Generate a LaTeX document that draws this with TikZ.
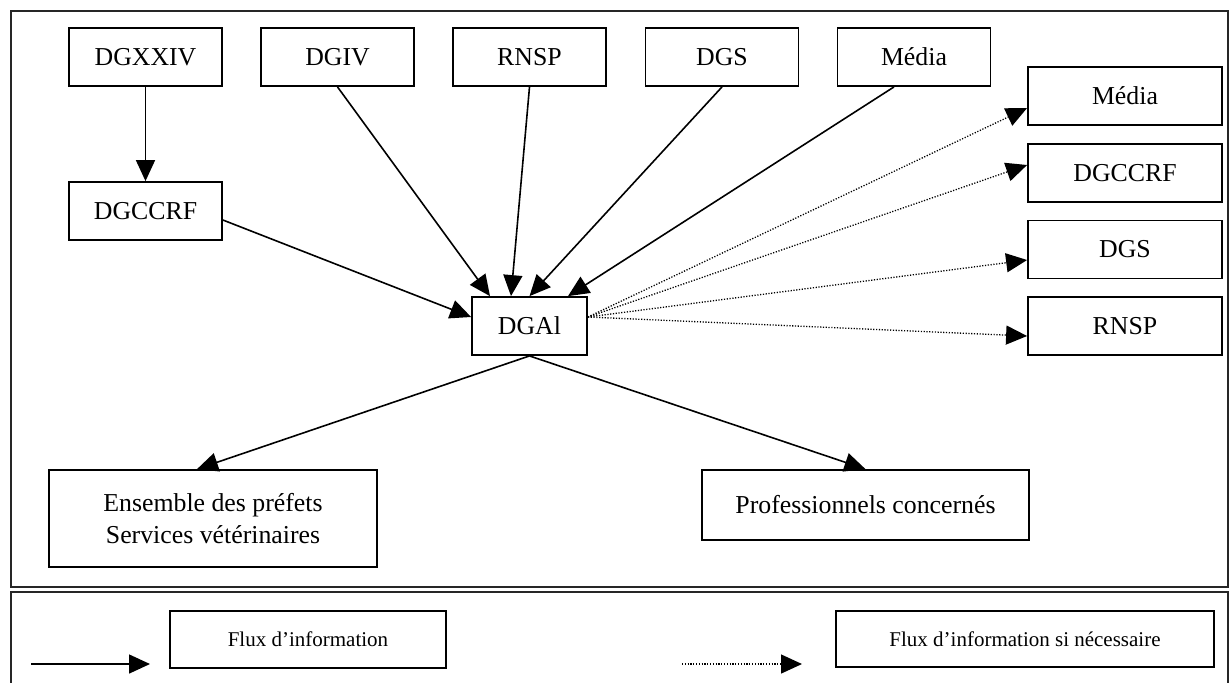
\documentclass[tikz,border=0pt]{standalone}
\usepackage{fontspec}
\setmainfont{Liberation Serif}
\usepackage{tikz}
\usetikzlibrary{arrows.meta,calc}
\definecolor{dgLine}{HTML}{000000}
\definecolor{dgFrame}{HTML}{262626}
\newcommand{\prefetsTxt}{Ensemble des préfets\\Services vétérinaires}
\newcommand{\prosTxt}{Professionnels concernés}
\newcommand{\legSolid}{Flux d’information}
\newcommand{\legDotted}{Flux d’information si nécessaire}
\newcommand{\bw}{76.5pt}
\newcommand{\bh}{29pt}

\begin{document}
\begin{tikzpicture}[
  x=0.5pt, y=-0.5pt,
  font=\fontsize{12.9}{15.8}\selectfont,
  org/.style={
    draw=dgLine, line width=0.9pt, inner sep=0pt,
    minimum width=\bw, minimum height=\bh, align=center
  },
  orgR/.style={org, minimum width=97pt},
  legbox/.style={org, font=\fontsize{10.5}{12}\selectfont},
  panel/.style={draw=dgFrame, line width=0.9pt},
  flow/.style={
    -{Triangle[length=10.5pt,width=9.5pt]},
    draw=dgLine, line width=0.8pt
  },
  flowopt/.style={flow, line width=0.65pt, dash pattern=on 0.6pt off 0.8pt}
]
\useasboundingbox (0,0) rectangle (1230,682);

% ---- frames ---------------------------------------------------------------
\draw[panel] (11,11) rectangle (1228,587);
\draw[panel] (11,684) |- (1228,592) -- (1228,684);

% ---- top row --------------------------------------------------------------
\node[org] (dgxxiv) at (145.5,57) {DGXXIV};
\node[org] (dgiv)   at (337.5,57) {DGIV};
\node[org] (rnsp)   at (529.5,57) {RNSP};
\node[org] (dgs)    at (722,57)   {DGS};
\node[org] (media)  at (914,57)   {Média};

\node[org] (dgccrf) at (145.5,211) {DGCCRF};
\node[org, minimum width=57.5pt] (dgal) at (529.5,326) {DGAl};

% ---- right column ---------------------------------------------------------
\node[orgR] (mediaR)  at (1125,96)    {Média};
\node[orgR] (dgccrfR) at (1125,173)   {DGCCRF};
\node[orgR] (dgsR)    at (1125,249.5) {DGS};
\node[orgR] (rnspR)   at (1125,326)   {RNSP};

% ---- receivers ------------------------------------------------------------
\node[org, minimum width=164pt, minimum height=48.5pt] (prefets) at (213,518.5) {\prefetsTxt};
\node[org, minimum width=163.5pt, minimum height=35pt] (pros) at (865.5,505) {\prosTxt};

% ---- arrows ---------------------------------------------------------------
\draw[flow] (dgxxiv.south) -- (dgccrf.north);
\draw[flow] ($(dgccrf.east)+(0,9)$) -- ($(dgal.west)+(0,-9)$);
\draw[flow] (dgiv.south) -- ($(dgal.north)+(-39.5,0)$);
\draw[flow] (rnsp.south) -- ($(dgal.north)+(-18.5,0)$);
\draw[flow] (dgs.south)  -- (dgal.north);
\draw[flow] ($(media.south)+(-20,0)$) -- ($(dgal.north)+(38.5,0)$);

\draw[flowopt] ($(dgal.east)+(0,-9)$) -- ($(mediaR.west)+(0,12)$);
\draw[flowopt] ($(dgal.east)+(0,-9)$) -- ($(dgccrfR.west)+(0,-8)$);
\draw[flowopt] ($(dgal.east)+(0,-9)$) -- ($(dgsR.west)+(0,10.5)$);
\draw[flowopt] ($(dgal.east)+(0,-9)$) -- ($(rnspR.west)+(0,10)$);

\draw[flow] (dgal.south) -- ($(prefets.north)+(-16,0)$);
\draw[flow] (dgal.south) -- (pros.north);

% ---- legend ---------------------------------------------------------------
\node[legbox, minimum width=138pt, minimum height=28.5pt] (legA) at (308,639.5) {\legSolid};
\node[legbox, minimum width=189pt, minimum height=28pt]   (legB) at (1025,639)  {\legDotted};
\coordinate (solidL) at (31,664);
\coordinate (solidR) at (150,664);
\coordinate (dotL) at (682,664);
\coordinate (dotR) at (802,664);
\draw[flow] (solidL) -- (solidR);
\draw[flowopt] (dotL) -- (dotR);

\end{tikzpicture}
\end{document}
